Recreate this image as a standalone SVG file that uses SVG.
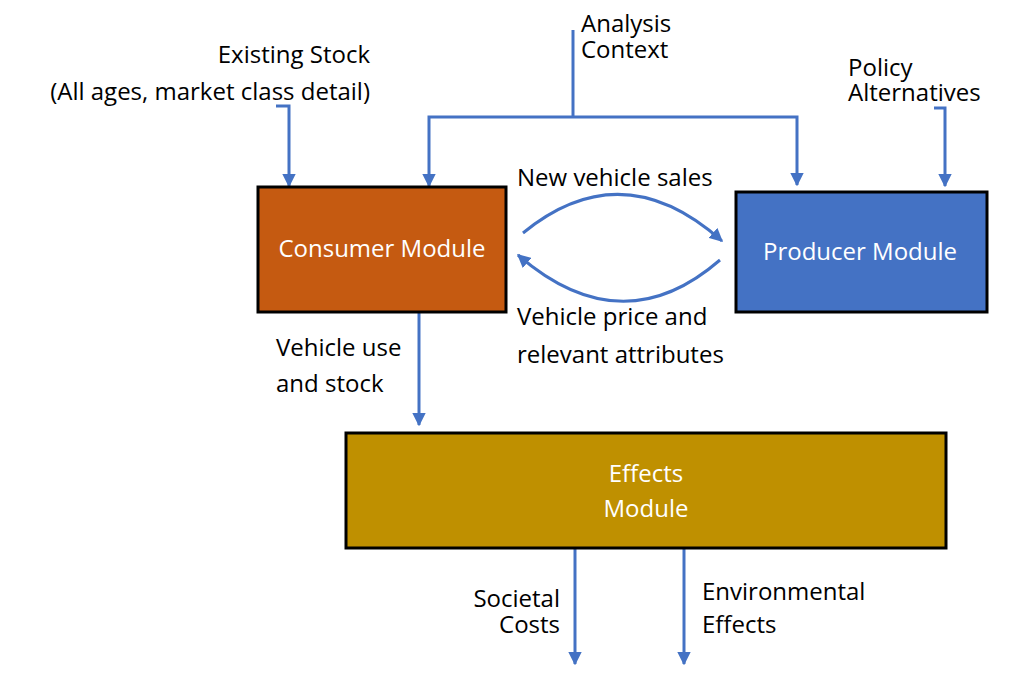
<svg xmlns="http://www.w3.org/2000/svg" width="1032" height="677" viewBox="0 0 1032 677">
<style>
.t{font-family:"Open Sans","Noto Sans",sans-serif;font-size:24px;fill:#000}
.w{fill:#fff}
.box{stroke:#000;stroke-width:3}
.c{fill:none;stroke:#4472C4;stroke-width:3}
</style>
<defs>
<marker id="ah" viewBox="0 0 10 10" refX="9" refY="5" markerWidth="4.5" markerHeight="4.5" orient="auto" markerUnits="strokeWidth">
<path d="M0,0 L10,5 L0,10 z" fill="#4472C4"/>
</marker>
</defs>
<rect width="1032" height="677" fill="#fff"/>
<g id="connectors">
<path class="c" d="M276,106 H289 V186" marker-end="url(#ah)"/>
<path class="c" d="M573,30 V117"/>
<path class="c" d="M573,117 H429 V186" marker-end="url(#ah)"/>
<path class="c" d="M573,117 H797 V185" marker-end="url(#ah)"/>
<path class="c" d="M934,108 H945 V186" marker-end="url(#ah)"/>
<path class="c" d="M523,233 Q622,152 722,241" marker-end="url(#ah)"/>
<path class="c" d="M720,260 Q622,345 518,255" marker-end="url(#ah)"/>
<path class="c" d="M419,313 V425" marker-end="url(#ah)"/>
<path class="c" d="M575,549 V664" marker-end="url(#ah)"/>
<path class="c" d="M684,549 V664" marker-end="url(#ah)"/>
</g>
<g id="consumer">
<rect class="box" x="258" y="187" width="248" height="125" fill="#C55A11"/>
<text class="t w" x="382" y="257" text-anchor="middle">Consumer Module</text>
</g>
<g id="producer">
<rect class="box" x="736" y="192" width="251" height="120" fill="#4472C4"/>
<text class="t w" x="860" y="260" text-anchor="middle">Producer Module</text>
</g>
<g id="effects">
<rect class="box" x="346" y="433" width="600" height="115" fill="#BF9000"/>
<text class="t w" x="646" y="482" text-anchor="middle">Effects</text>
<text class="t w" x="646" y="517" text-anchor="middle">Module</text>
</g>
<g id="labels">
<text class="t" x="581" y="32">Analysis</text>
<text class="t" x="581" y="58">Context</text>
<text class="t" x="370" y="63" text-anchor="end">Existing Stock</text>
<text class="t" x="370" y="100" text-anchor="end">(All ages, market class detail)</text>
<text class="t" x="848" y="76">Policy</text>
<text class="t" x="848" y="101">Alternatives</text>
<text class="t" x="517" y="186">New vehicle sales</text>
<text class="t" x="517" y="325">Vehicle price and</text>
<text class="t" x="517" y="363">relevant attributes</text>
<text class="t" x="276" y="356">Vehicle use</text>
<text class="t" x="276" y="392">and stock</text>
<text class="t" x="560" y="607" text-anchor="end">Societal</text>
<text class="t" x="560" y="633" text-anchor="end">Costs</text>
<text class="t" x="702" y="600">Environmental</text>
<text class="t" x="702" y="633">Effects</text>
</g>
</svg>
